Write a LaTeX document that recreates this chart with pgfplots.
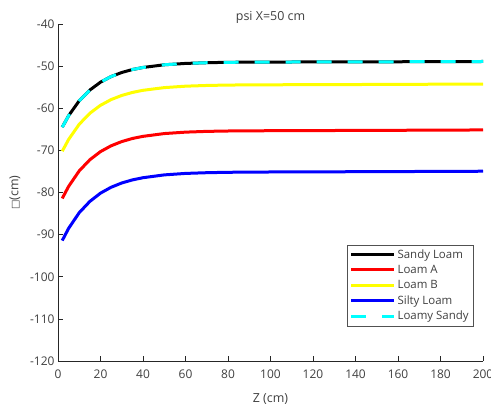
\documentclass[border=0pt]{standalone}
\usepackage{pgfplots}
\pgfplotsset{compat=1.18}
\usepackage{fontspec}
\setmainfont{Open Sans}
\newfontfamily\dejavu{DejaVu Sans}
\definecolor{txt}{HTML}{404040}
\definecolor{ax}{HTML}{262626}
\definecolor{mcyan}{rgb}{0,1,1}
\definecolor{myellow}{rgb}{1,1,0}
\definecolor{mred}{rgb}{1,0,0}
\definecolor{mblue}{rgb}{0,0,1}

\begin{document}
\begin{tikzpicture}
\begin{axis}[
  scale only axis, width=425bp, height=337bp,
  xmin=0, xmax=200, ymin=-120, ymax=-40,
  xtick={0,20,...,200}, ytick={-120,-110,...,-40},
  axis x line*=bottom, axis y line*=left,
  axis line style={ax, line width=0.6pt},
  tick style={ax, line width=0.6pt}, tick align=inside,
  major tick length=5bp,
  /pgf/number format/assume math mode=true,
  /pgf/number format/1000 sep={},
  tick label style={font=\fontsize{12}{14}\selectfont, text=txt},
  xticklabel style={yshift=-5bp},
  label style={font=\fontsize{12.5}{14}\selectfont, text=txt},
  xlabel={Z (cm)},
  ylabel={{\dejavu\fontsize{10}{10}\selectfont □}(cm)},
  xlabel style={yshift=-8bp},
  ylabel style={yshift=3bp},
  title={psi X=50 cm},
  title style={font=\fontsize{12.5}{14}\selectfont, text=txt, yshift=-9bp},
  legend style={at={(axis cs:195.5,-111.7)}, anchor=south east,
    draw=ax!80, line width=0.5pt, font=\fontsize{11.5}{13}\selectfont,
    text=txt, row sep=1.5bp, inner xsep=2.5bp, inner ysep=2.5bp},
  legend cell align=left,
  legend image code/.code={\draw[#1] (0bp,0bp) -- (43bp,0bp);},
  every axis plot/.append style={line width=3bp},
]
\addplot[black] coordinates {
 (2,-64.5)(5,-61.76)(10,-58.21)(15,-55.67)(20,-53.81)(25,-52.47)(30,-51.51)(35,-50.81)(40,-50.32)(50,-49.68)(60,-49.36)(70,-49.19)(80,-49.09)(100,-49.03)(150,-48.98)(200,-48.9)};
\addlegendentry{Sandy Loam}
\addplot[mred] coordinates {
 (2,-81.4)(5,-78.55)(10,-74.86)(15,-72.22)(20,-70.29)(25,-68.91)(30,-67.91)(35,-67.18)(40,-66.67)(50,-66.01)(60,-65.67)(70,-65.49)(80,-65.40)(100,-65.33)(150,-65.25)(200,-65.15)};
\addlegendentry{Loam A}
\addplot[myellow] coordinates {
 (2,-70.2)(5,-67.4)(10,-63.79)(15,-61.19)(20,-59.30)(25,-57.94)(30,-56.96)(35,-56.25)(40,-55.74)(50,-55.10)(60,-54.76)(70,-54.59)(80,-54.49)(100,-54.43)(150,-54.35)(200,-54.25)};
\addlegendentry{Loam B}
\addplot[mblue] coordinates {
 (2,-91.4)(5,-88.51)(10,-84.78)(15,-82.11)(20,-80.15)(25,-78.75)(30,-77.74)(35,-77.01)(40,-76.49)(50,-75.82)(60,-75.47)(70,-75.30)(80,-75.20)(100,-75.13)(150,-75.05)(200,-74.95)};
\addlegendentry{Silty Loam}
\addplot[mcyan, dash pattern=on 15bp off 16bp] coordinates {
 (2,-64.5)(5,-61.76)(10,-58.21)(15,-55.67)(20,-53.81)(25,-52.47)(30,-51.51)(35,-50.81)(40,-50.32)(50,-49.68)(60,-49.36)(70,-49.19)(80,-49.09)(100,-49.03)(150,-48.98)(200,-48.9)};
\addlegendentry{Loamy Sandy}
\end{axis}
\pgfresetboundingbox
\path[use as bounding box] (-58bp,-48bp) rectangle (433bp,361bp);
\end{tikzpicture}
\end{document}
